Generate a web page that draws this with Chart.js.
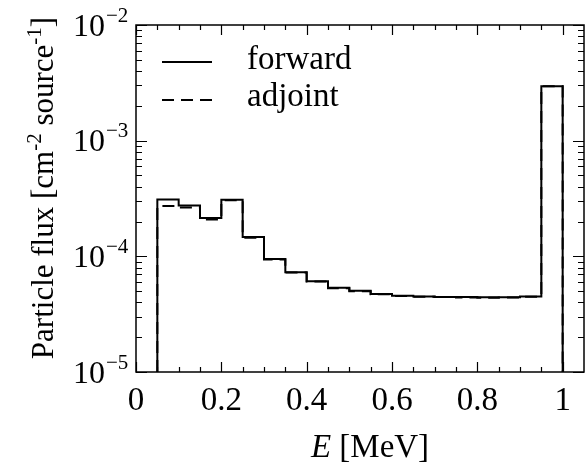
<!DOCTYPE html>
<html><head><meta charset="utf-8">
<script src="https://cdn.jsdelivr.net/npm/chart.js@4/dist/chart.umd.min.js"></script>
<style>html,body{margin:0;padding:0;background:#fff;}#wrap{width:587px;height:470px;}</style>
</head><body><div id="wrap"><canvas id="c" width="587" height="470"></canvas></div>
<script>
// ---- data ----
const binEdges = [0.05,0.10,0.15,0.20,0.25,0.30,0.35,0.40,0.45,0.50,0.55,0.60,0.65,0.70,0.75,0.80,0.85,0.90,0.95,1.00];
const forwardFlux = [3.10e-4,2.75e-4,2.15e-4,3.08e-4,1.47e-4,9.5e-5,7.3e-5,6.1e-5,5.35e-5,5.05e-5,4.72e-5,4.57e-5,4.5e-5,4.46e-5,4.44e-5,4.43e-5,4.43e-5,4.5e-5,2.95e-3];
const adjointFlux = [2.72e-4,2.64e-4,2.08e-4,3.05e-4,1.45e-4,9.4e-5,7.25e-5,6.05e-5,5.3e-5,5.0e-5,4.7e-5,4.55e-5,4.48e-5,4.45e-5,4.4e-5,4.38e-5,4.4e-5,4.48e-5,2.95e-3];
const seriesNames = ['forward','adjoint'];
const xTickValues = [0,0.2,0.4,0.6,0.8,1.0];
const xTickLabels = ['0','0.2','0.4','0.6','0.8','1'];
const yTickExponents = [-2,-3,-4,-5];
const xRange = [0,1.05];
const yRange = [1e-5,1e-2];

const SERIF = '"Liberation Serif","Times New Roman",serif';
const DASH = [12,7];

function stepPoints(vals){
  const pts=[{x:binEdges[0],y:yRange[0]}];
  for(let i=0;i<vals.length;i++) pts.push({x:binEdges[i],y:vals[i]});
  const last=binEdges[binEdges.length-1];
  pts.push({x:last,y:vals[vals.length-1]});
  pts.push({x:last,y:yRange[0]});
  return pts;
}

const decor = {
  id:'decor',
  afterDraw(chart){
    const ctx=chart.ctx, xs=chart.scales.x, ys=chart.scales.y, a=chart.chartArea;
    ctx.save();
    ctx.strokeStyle='#000'; ctx.fillStyle='#000';
    // frame
    ctx.lineWidth=1.5;
    ctx.strokeRect(a.left,a.top,a.right-a.left,a.bottom-a.top);
    // x ticks (inward, top & bottom)
    ctx.lineWidth=1.2;
    ctx.beginPath();
    for(let k=0;k<=20;k++){
      const v=k*0.05; const px=Math.round(xs.getPixelForValue(v))+0.5;
      const major = (k%4===0);
      const L = major?10:5;
      ctx.moveTo(px,a.bottom); ctx.lineTo(px,a.bottom-L);
      ctx.moveTo(px,a.top); ctx.lineTo(px,a.top+L);
    }
    // y ticks (inward, left & right)
    for(let d=-5; d<=-2; d++){
      for(let m=1;m<=9;m++){
        if(d===-2 && m>1) break;
        const v=m*Math.pow(10,d);
        const py=Math.round(ys.getPixelForValue(v))+0.5;
        const L = (m===1)?11:6;
        ctx.moveTo(a.left,py); ctx.lineTo(a.left+L,py);
        ctx.moveTo(a.right,py); ctx.lineTo(a.right-L,py);
      }
    }
    ctx.stroke();
    // y tick labels
    yTickExponents.forEach(e=>{
      const py=ys.getPixelForValue(Math.pow(10,e));
      ctx.font='32px '+SERIF; ctx.textAlign='right'; ctx.textBaseline='alphabetic';
      ctx.fillText('10',105,py+10.7);
      ctx.font='21px '+SERIF; ctx.textAlign='left';
      ctx.fillText('\u2212'+Math.abs(e),106,py-3.3);
    });
    // x tick labels
    ctx.font='33px '+SERIF; ctx.textAlign='center';
    xTickValues.forEach((v,i)=>{
      ctx.fillText(xTickLabels[i], xs.getPixelForValue(v), 410);
    });
    // x title
    ctx.textAlign='left';
    ctx.font='italic 33px '+SERIF; const wE=ctx.measureText('E').width;
    ctx.font='33px '+SERIF; const wR=ctx.measureText(' [MeV]').width;
    let sx=370-(wE+wR)/2;
    ctx.font='italic 33px '+SERIF; ctx.fillText('E',sx,457);
    ctx.font='33px '+SERIF; ctx.fillText(' [MeV]',sx+wE,457);
    // y title
    const parts=[['Particle flux [cm',0],['-2',1],[' source',0],['-1',1],[']',0]];
    let tot=0; const ws=[];
    parts.forEach(p=>{ctx.font=(p[1]?'21px ':'31px ')+SERIF; const w=ctx.measureText(p[0]).width; ws.push(w); tot+=w;});
    ctx.translate(53,188); ctx.rotate(-Math.PI/2);
    let cx=-tot/2;
    parts.forEach((p,i)=>{ctx.font=(p[1]?'21px ':'31px ')+SERIF; ctx.fillText(p[0],cx,p[1]?-12:0); cx+=ws[i];});
    ctx.setTransform(1,0,0,1,0,0);
    // legend
    ctx.lineWidth=2;
    ctx.beginPath(); ctx.moveTo(162,62); ctx.lineTo(212,62); ctx.stroke();
    ctx.setLineDash(DASH);
    ctx.beginPath(); ctx.moveTo(162,100); ctx.lineTo(212,100); ctx.stroke();
    ctx.setLineDash([]);
    ctx.font='33px '+SERIF; ctx.textAlign='left';
    ctx.fillText(seriesNames[0],247,69);
    ctx.fillText(seriesNames[1],247,106);
    ctx.restore();
  }
};

new Chart(document.getElementById('c'),{
  type:'line',
  data:{datasets:[
    {label:seriesNames[1],data:stepPoints(adjointFlux),stepped:true,borderColor:'#000',borderWidth:2,borderDash:DASH,pointRadius:0,fill:false},
    {label:seriesNames[0],data:stepPoints(forwardFlux),stepped:true,borderColor:'#000',borderWidth:2,pointRadius:0,fill:false}
  ]},
  options:{
    responsive:false,animation:false,devicePixelRatio:1,
    layout:{padding:{top:25,right:3,left:0,bottom:0}},
    plugins:{legend:{display:false},tooltip:{enabled:false}},
    scales:{
      x:{type:'linear',min:xRange[0],max:xRange[1],grid:{display:false},border:{display:false},ticks:{display:false},afterFit(s){s.height=98;}},
      y:{type:'logarithmic',min:yRange[0],max:yRange[1],grid:{display:false},border:{display:false},ticks:{display:false},afterFit(s){s.width=136;}}
    }
  },
  plugins:[decor]
});
</script></body></html>
